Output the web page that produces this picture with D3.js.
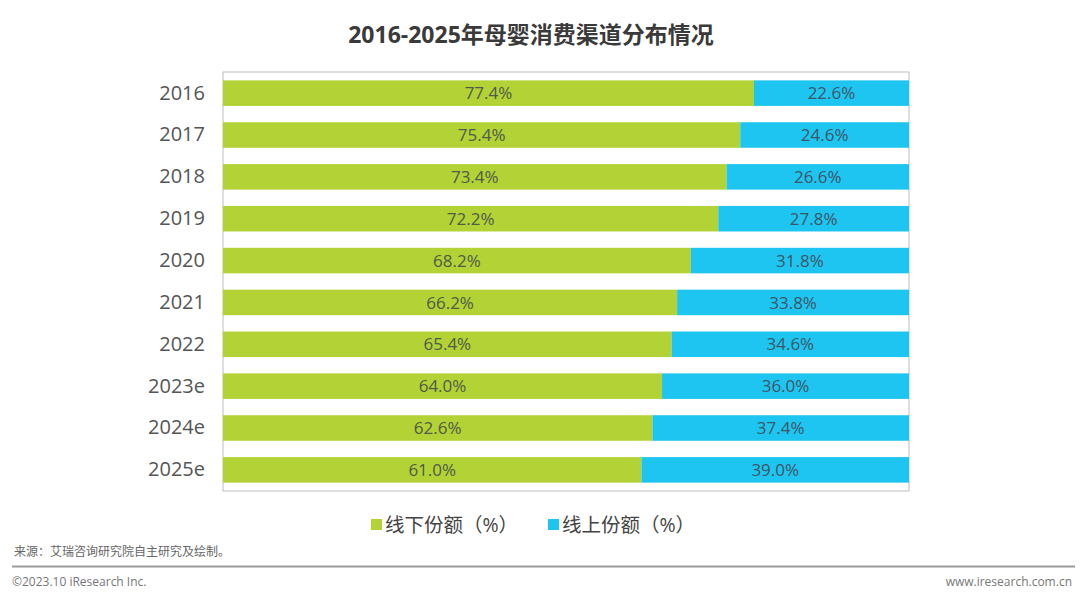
<!DOCTYPE html>
<html>
<head>
<meta charset="utf-8">
<script src="https://cdn.jsdelivr.net/npm/d3@7"></script>
<style>
  body { margin: 0; background: #fff; }
  text { font-family: "Open Sans", "Noto Sans CJK SC", sans-serif; }
</style>
</head>
<body>
<div id="chart"></div>
<script>
var years   = ["2016", "2017", "2018", "2019", "2020", "2021", "2022", "2023e", "2024e", "2025e"];
var offline = [77.4, 75.4, 73.4, 72.2, 68.2, 66.2, 65.4, 64.0, 62.6, 61.0];
var online  = [22.6, 24.6, 26.6, 27.8, 31.8, 33.8, 34.6, 36.0, 37.4, 39.0];
var seriesNames = ["线下份额（%）", "线上份额（%）"];
var colors = ["#b2d235", "#1ec5f0"];

var width = 1080, height = 597;
var svg = d3.select("#chart").append("svg")
    .attr("width", width)
    .attr("height", height);

// plot frame
var plotLeft = 223, plotRight = 909, plotTop = 72, plotBottom = 491;

var x = d3.scaleLinear().domain([0, 100]).range([plotLeft, plotRight]);
var y = d3.scaleBand().domain(years).range([plotTop, plotBottom]).paddingInner(0.39).paddingOuter(0.2);

svg.append("text")
    .attr("x", 531).attr("y", 43)
    .attr("text-anchor", "middle")
    .attr("font-size", 23).attr("font-weight", "bold")
    .attr("fill", "#3a3a3a")
    .text("2016-2025年母婴消费渠道分布情况");

svg.append("rect")
    .attr("x", plotLeft).attr("y", plotTop)
    .attr("width", plotRight - plotLeft).attr("height", plotBottom - plotTop)
    .attr("fill", "none").attr("stroke", "#bdbdbd").attr("stroke-width", 1);

var rows = years.map(function (d, i) {
  return { year: d, off: offline[i], on: online[i] };
});

var g = svg.selectAll(".row").data(rows).enter().append("g");

g.append("rect")
    .attr("x", x(0))
    .attr("y", function (d) { return y(d.year); })
    .attr("width", function (d) { return x(d.off) - x(0); })
    .attr("height", y.bandwidth())
    .attr("fill", colors[0]);

g.append("rect")
    .attr("x", function (d) { return x(d.off); })
    .attr("y", function (d) { return y(d.year); })
    .attr("width", function (d) { return x(d.off + d.on) - x(d.off); })
    .attr("height", y.bandwidth())
    .attr("fill", colors[1]);

g.append("text")
    .attr("x", function (d) { return (x(0) + x(d.off)) / 2; })
    .attr("y", function (d) { return y(d.year) + y.bandwidth() / 2; })
    .attr("dy", "0.36em")
    .attr("text-anchor", "middle")
    .attr("font-size", 17).attr("fill", "#4f5a4a")
    .text(function (d) { return d.off.toFixed(1) + "%"; });

g.append("text")
    .attr("x", function (d) { return (x(d.off) + x(d.off + d.on)) / 2; })
    .attr("y", function (d) { return y(d.year) + y.bandwidth() / 2; })
    .attr("dy", "0.36em")
    .attr("text-anchor", "middle")
    .attr("font-size", 17).attr("fill", "#3f5566")
    .text(function (d) { return d.on.toFixed(1) + "%"; });

var yAxis = svg.append("g")
    .attr("transform", "translate(" + (plotLeft - 18) + ",0)")
    .call(d3.axisLeft(y).tickSize(0).tickPadding(0));
yAxis.select(".domain").remove();
yAxis.selectAll("text")
    .attr("font-size", 20).attr("fill", "#555")
    .attr("font-family", "'Open Sans', sans-serif");

// legend
var legendX = [371, 548];
seriesNames.forEach(function (name, i) {
  svg.append("rect")
      .attr("x", legendX[i]).attr("y", 519)
      .attr("width", 11).attr("height", 11)
      .attr("fill", colors[i]);
  svg.append("text")
      .attr("x", legendX[i] + 14).attr("y", 532)
      .attr("font-size", 19.5).attr("fill", "#444")
      .text(name);
});

svg.append("text")
    .attr("x", 14).attr("y", 556)
    .attr("font-size", 12).attr("fill", "#666")
    .text("来源：艾瑞咨询研究院自主研究及绘制。");

svg.append("line")
    .attr("x1", 12).attr("x2", 1075)
    .attr("y1", 566.5).attr("y2", 566.5)
    .attr("stroke", "#9a9a9a").attr("stroke-width", 2);

svg.append("text")
    .attr("x", 12).attr("y", 586)
    .attr("font-size", 12).attr("fill", "#777")
    .text("©2023.10 iResearch Inc.");

svg.append("text")
    .attr("x", 1072).attr("y", 586)
    .attr("text-anchor", "end")
    .attr("font-size", 12).attr("fill", "#777")
    .text("www.iresearch.com.cn");
</script>
</body>
</html>
